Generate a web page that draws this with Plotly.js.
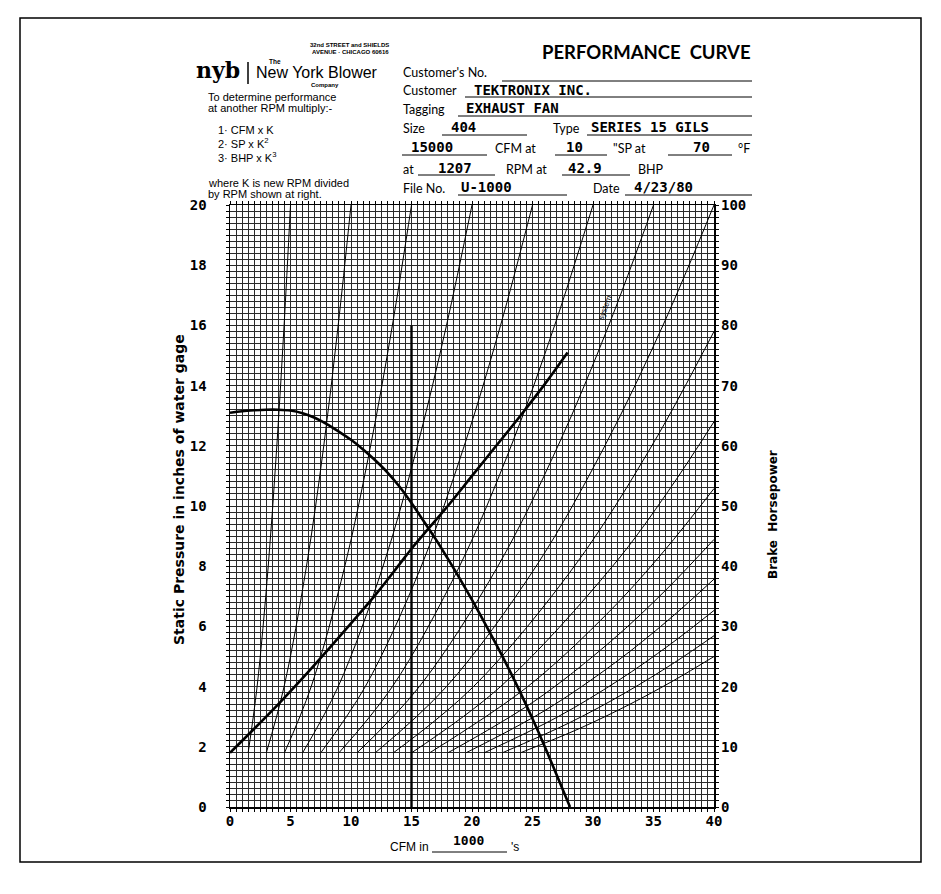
<!DOCTYPE html>
<html><head><meta charset="utf-8">
<script src="https://cdn.plot.ly/plotly-3.0.1.min.js"></script>
<style>html,body{margin:0;padding:0;background:#fff;} #chart{width:941px;height:894px;}</style>
</head><body><div id="chart"></div>
<script>
// ---------------- DATA ----------------
const xTicks = [0,5,10,15,20,25,30,35,40];
const yTicks = [0,2,4,6,8,10,12,14,16,18,20];
const bhpTicks = [0,10,20,30,40,50,60,70,80,90,100];

// Fan static pressure curve (CFM in 1000's, SP in inches of water)
const spCFM    = [0,1,2,3,4,5,6,7,8,9,10,11,12,13,14,15,16,17,18,19,20,21,22,23,24,25,26,27,28.1];
const spValues = [13.1,13.15,13.18,13.2,13.2,13.17,13.08,12.93,12.72,12.47,12.2,11.88,11.52,11.12,10.65,10.1,9.5,8.9,8.25,7.58,6.88,6.15,5.4,4.62,3.8,2.93,2.02,1.06,0];

// Brake horsepower curve (right axis)
const bhpCFM    = [0,2,4,6,8,10,12,14,15,16,18,20,22,24,26,27.9];
const bhpValues = [9,13,17.1,21.4,25.9,30.5,35.2,40.3,42.9,45.3,50,55,60,65,70.2,75.5];

// Operating point CFM line
const opCFM = [15,15];
const opSP  = [0,16];

// System resistance curves (thin family)
const systemCFM = [
  [1.5,2.24,3.16,3.87,4.47,5.0],
  [3.0,4.47,6.32,7.75,8.94,10.0],
  [4.5,6.71,9.49,11.62,13.42,15.0],
  [6.0,8.94,12.65,15.49,17.89,20.0],
  [7.5,11.18,15.81,19.36,22.36,25.0],
  [9.0,13.42,18.97,23.24,26.83,30.0],
  [10.5,15.65,22.14,27.11,31.3,35.0],
  [12.0,17.89,25.3,30.98,35.78,40.0],
  [13.5,20.12,28.46,34.86,40],
  [15,22.36,31.62,36.23,40],
  [16.5,24.6,31.36,35.86,40],
  [18,25.1,31.46,36,40],
  [19.5,26,31.84,36.19,40],
  [21,27.11,32.08,36.37,40],
  [22.5,28.06,32.69,36.74,40],
  [24,28.84,32.98,36.66,40]
];
const systemSP = [
  [1.8,4,8,12,16,20],
  [1.8,4,8,12,16,20],
  [1.8,4,8,12,16,20],
  [1.8,4,8,12,16,20],
  [1.8,4,8,12,16,20],
  [1.8,4,8,12,16,20],
  [1.8,4,8,12,16,20],
  [1.8,4,8,12,16,20],
  [1.8,4,8,12,15.8],
  [1.8,4,8,10.5,12.8],
  [1.8,4,6.5,8.5,10.58],
  [1.8,3.5,5.5,7.2,8.89],
  [1.8,3.2,4.8,6.2,7.57],
  [1.8,3,4.2,5.4,6.53],
  [1.8,2.8,3.8,4.8,5.69],
  [1.8,2.6,3.4,4.2,5.0]
];

// ---------------- LAYOUT HELPERS ----------------
const L = 230, R = 714, T = 205, B = 807;   // plot area in page pixels
const PX = x => (x - L) / (R - L);
const PY = y => (B - y) / (B - T);

const SANS = 'Liberation Sans, Arial, sans-serif';
const NARROW = 'Liberation Sans Narrow, Liberation Sans, Arial, sans-serif';
const FORM = 'Lato, Noto Sans, sans-serif';
const MONO = 'DejaVu Sans Mono, Liberation Mono, monospace';

const annotations = [];
function txt(text, x, y, size, family, opts) {
  opts = opts || {};
  annotations.push({
    xref: 'paper', yref: 'paper', x: PX(x), y: PY(y), text: text,
    showarrow: false, xanchor: opts.anchor || 'left', yanchor: 'middle',
    textangle: opts.angle || 0, borderpad: 0,
    font: {family: family, size: size, color: '#000', weight: opts.weight || 'normal'}
  });
}
const shapes = [];
function hline(x0, x1, y, w) {
  shapes.push({type: 'line', xref: 'paper', yref: 'paper', x0: PX(x0), x1: PX(x1), y0: PY(y), y1: PY(y),
    line: {color: '#000', width: w || 1}});
}

// page frame
shapes.push({type: 'rect', xref: 'paper', yref: 'paper', x0: PX(20), x1: PX(921), y0: PY(862), y1: PY(18),
  line: {color: '#000', width: 1.5}, fillcolor: 'rgba(0,0,0,0)'});
// logo bar
shapes.push({type: 'line', xref: 'paper', yref: 'paper', x0: PX(248), x1: PX(248), y0: PY(62), y1: PY(84),
  line: {color: '#000', width: 1.5}});

// ---- left header block
txt('32nd STREET and SHIELDS', 390, 45, 6, SANS, {anchor: 'right', weight: 'bold'});
txt('AVENUE · CHICAGO 60616', 390, 52, 6, SANS, {anchor: 'right', weight: 'bold'});
txt('nyb', 195, 70, 22, 'DejaVu Serif, serif', {weight: 'bold'});
txt('The', 268, 61, 6.5, SANS, {weight: 'bold'});
txt('New York Blower', 255, 72, 16, NARROW);
txt('Company', 310, 85, 6, SANS, {weight: 'bold'});
txt('To determine performance', 207, 97, 11, SANS);
txt('at another RPM multiply:-', 207, 108, 11, SANS);
txt('1· CFM x K', 217, 130, 11, SANS);
txt('2· SP x K<sup>2</sup>', 217, 143, 11, SANS);
txt('3· BHP x K<sup>3</sup>', 217, 157, 11, SANS);
txt('where K is new RPM divided', 207, 183, 11, SANS);
txt('by RPM shown at right.', 207, 194, 11, SANS);

// ---- right header block (form)
txt('PERFORMANCE&nbsp;&nbsp;CURVE', 752, 52, 18.5, FORM, {anchor: 'right', weight: 'bold'});
const LS = 12.5, VS = 14;
// row 1
txt("Customer's No.", 402, 73, LS, FORM); hline(502, 752, 81);
// row 2
txt('Customer', 402, 91, LS, FORM); hline(465, 752, 97);
txt('TEKTRONIX INC.', 473, 90, VS, MONO, {weight: 'bold'});
// row 3
txt('Tagging', 402, 109, LS, FORM); hline(458, 752, 116);
txt('EXHAUST FAN', 465, 108, VS, MONO, {weight: 'bold'});
// row 4
txt('Size', 402, 128, LS, FORM); hline(442, 527, 135);
txt('404', 450, 127, VS, MONO, {weight: 'bold'});
txt('Type', 552, 128, LS, FORM); hline(587, 752, 135);
txt('SERIES 15 GILS', 590, 127, VS, MONO, {weight: 'bold'});
// row 5
hline(402, 487, 155);
txt('15000', 410, 147, VS, MONO, {weight: 'bold'});
txt('CFM at', 494, 148, LS, FORM); hline(555, 607, 155);
txt('10', 565, 147, VS, MONO, {weight: 'bold'});
txt('"SP at', 612, 148, LS, FORM); hline(668, 732, 155);
txt('70', 692, 147, VS, MONO, {weight: 'bold'});
txt('°F', 737, 148, LS, FORM);
// row 6
txt('at', 402, 169, LS, FORM); hline(418, 495, 175);
txt('1207', 437, 168, VS, MONO, {weight: 'bold'});
txt('RPM at', 505, 169, LS, FORM); hline(562, 630, 175);
txt('42.9', 567, 168, VS, MONO, {weight: 'bold'});
txt('BHP', 637, 169, LS, FORM);
// row 7
txt('File No.', 402, 188, LS, FORM); hline(458, 567, 195);
txt('U-1000', 460, 187, VS, MONO, {weight: 'bold'});
txt('Date', 592, 188, LS, FORM); hline(625, 752, 195);
txt('4/23/80', 633, 187, VS, MONO, {weight: 'bold'});

// ---- axis titles
txt('Static Pressure in inches of water gage', 179, 490, 14, 'DejaVu Sans, sans-serif', {angle: -90, anchor: 'center', weight: 'bold'});
txt('Brake&nbsp;&nbsp;Horsepower', 773, 515, 12, 'DejaVu Sans, sans-serif', {angle: -90, anchor: 'center', weight: 'bold'});
txt('CFM in', 430, 847, 12, NARROW, {anchor: 'right'});
hline(432, 507, 852);
txt('1000', 468, 840, 13, MONO, {anchor: 'center', weight: 'bold'});
txt("'s", 510, 847, 12, NARROW);

// "system" label along a system curve
annotations.push({xref: 'x', yref: 'y', x: 31.0, y: 16.6, text: 'system', showarrow: false,
  textangle: -70, font: {family: SANS, size: 8, color: '#000'}});

// ---------------- TRACES ----------------
const traces = [];
systemCFM.forEach((xs, i) => {
  traces.push({x: xs, y: systemSP[i], type: 'scatter', mode: 'lines',
    line: {color: '#000', width: 1, shape: 'spline', smoothing: 1}, hoverinfo: 'skip', showlegend: false});
});
traces.push({x: spCFM, y: spValues, type: 'scatter', mode: 'lines',
  line: {color: '#000', width: 2.6, shape: 'spline', smoothing: 1}, hoverinfo: 'skip', showlegend: false});
traces.push({x: opCFM, y: opSP, type: 'scatter', mode: 'lines',
  line: {color: '#000', width: 2.4}, hoverinfo: 'skip', showlegend: false});
traces.push({x: bhpCFM, y: bhpValues, yaxis: 'y2', type: 'scatter', mode: 'lines',
  line: {color: '#000', width: 2.6, shape: 'spline', smoothing: 1}, hoverinfo: 'skip', showlegend: false});

const GRID = '#2a2a2a';
const tickFont = {family: MONO, size: 14, color: '#000', weight: 'bold'};

const layout = {
  width: 941, height: 894,
  margin: {l: L, r: 941 - R, t: T, b: 894 - B, pad: 0},
  paper_bgcolor: '#fff', plot_bgcolor: '#fff',
  showlegend: false,
  xaxis: {
    range: [0, 40], tickvals: xTicks, ticktext: xTicks.map(String),
    showgrid: true, gridcolor: GRID, gridwidth: 1, zeroline: false,
    ticks: 'outside', ticklen: 3, tickcolor: '#000', tickwidth: 1,
    minor: {dtick: 0.5, tick0: 0, showgrid: true, gridcolor: GRID, gridwidth: 1, ticks: 'outside', ticklen: 3, tickcolor: '#000'},
    showline: true, linecolor: '#000', linewidth: 1.5, mirror: 'allticks',
    tickfont: tickFont, ticklabelstandoff: -2, fixedrange: true
  },
  yaxis: {
    range: [0, 20], tickvals: yTicks, ticktext: yTicks.map(String),
    showgrid: true, gridcolor: GRID, gridwidth: 1, zeroline: false,
    ticks: 'outside', ticklen: 3, tickcolor: '#000', tickwidth: 1,
    minor: {dtick: 0.2, tick0: 0, showgrid: true, gridcolor: GRID, gridwidth: 1, ticks: 'outside', ticklen: 3, tickcolor: '#000'},
    showline: true, linecolor: '#000', linewidth: 1.5, mirror: 'allticks',
    tickfont: tickFont, ticklabelstandoff: 16, fixedrange: true
  },
  yaxis2: {
    range: [0, 100], tickvals: bhpTicks, ticktext: bhpTicks.map(String),
    overlaying: 'y', side: 'right', showgrid: false, zeroline: false,
    ticks: '', showline: false, tickfont: tickFont, ticklabelstandoff: 6, fixedrange: true
  },
  annotations: annotations,
  shapes: shapes
};

Plotly.newPlot('chart', traces, layout, {staticPlot: true, displayModeBar: false});
</script>
</body></html>
